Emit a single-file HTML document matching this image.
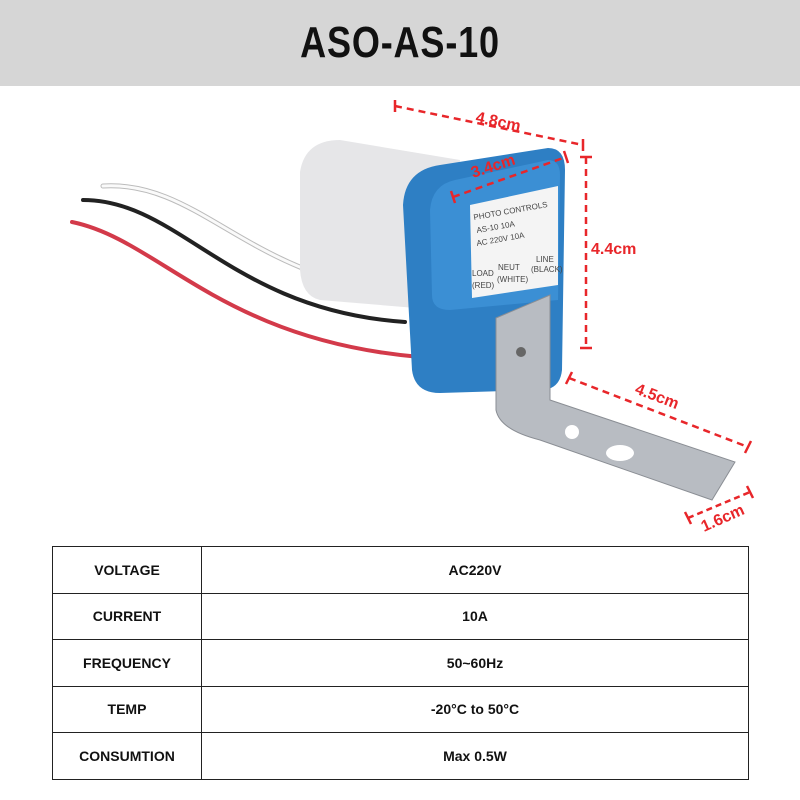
<!DOCTYPE html>
<html><head><style>
body{margin:0;width:800px;height:800px;background:#fff;font-family:"Liberation Sans",sans-serif;position:relative;overflow:hidden}
.hdr{position:absolute;left:0;top:0;width:800px;height:86px;background:#d6d6d6}
.hdr div{text-align:center;font-weight:bold;font-size:44px;line-height:86px;color:#111;transform:scaleX(0.82);letter-spacing:1px}
table{position:absolute;left:52px;top:546px;width:697px;border-collapse:collapse}
td{border:1.5px solid #222;height:45.5px;text-align:center;font-weight:bold;font-size:14px;color:#111;padding:0}
td:first-child{width:148px}
</style></head><body>
<div class="hdr"><div>ASO-AS-10</div></div>
<svg width="800" height="800" style="position:absolute;left:0;top:0">
<g fill="none" stroke-width="4" stroke-linecap="round">
<path d="M103 186 C200 180 250 280 405 292" stroke="#bbb" stroke-width="5"/>
<path d="M103 186 C200 180 250 280 405 292" stroke="#fafafa" stroke-width="3"/>
<path d="M83 200 C180 200 230 310 405 322" stroke="#222"/>
<path d="M72 222 C160 240 220 340 420 357" stroke="#d33a4a"/>
</g>
<path d="M300 172 Q305 140 340 140 L460 160 L440 310 L320 300 Q302 296 300 270 Z" fill="#e6e6e8"/>
<path d="M403 205 Q405 170 440 165 L548 148 Q565 148 565 170 L562 370 Q560 390 540 390 L440 393 Q415 393 412 370 Z" fill="#2e7fc4"/>
<path d="M430 210 Q432 185 455 180 L548 160 Q560 160 560 175 L558 300 L450 310 Q432 310 432 295 Z" fill="#3b8fd4"/>
<path d="M470 205 L558 186 L558 285 L472 298 Z" fill="#f4f4f4"/>
<g font-size="8" fill="#444" font-family="Liberation Sans">
<text x="474" y="220" transform="rotate(-10 474 220)">PHOTO CONTROLS</text>
<text x="477" y="233" transform="rotate(-10 477 233)">AS-10  10A</text>
<text x="477" y="246" transform="rotate(-10 477 246)">AC 220V 10A</text>
<text x="472" y="276">LOAD</text><text x="472" y="288">(RED)</text>
<text x="498" y="270">NEUT</text><text x="497" y="282">(WHITE)</text>
<text x="536" y="262">LINE</text><text x="531" y="272">(BLACK)</text>
</g>
<path d="M496 318 L550 295 L550 400 L735 462 L712 500 L540 440 Q500 430 496 410 Z" fill="#b8bcc2" stroke="#8a8e94"/>
<circle cx="521" cy="352" r="5" fill="#666"/>
<circle cx="572" cy="432" r="7" fill="#fff"/><ellipse cx="620" cy="453" rx="14" ry="8" fill="#fff"/>
<g stroke="#e8262a" stroke-width="2.5" fill="none">
<path d="M395 106 L583 145" stroke-dasharray="7 5"/><path d="M395 100 L395 112 M583 139 L583 151"/>
<path d="M453 197 L566 157" stroke-dasharray="7 5"/><path d="M451 191 L455 203 M564 151 L568 163"/>
<path d="M586 157 L586 348" stroke-dasharray="7 5"/><path d="M580 157 L592 157 M580 348 L592 348"/>
<path d="M569 378 L748 447" stroke-dasharray="7 5"/><path d="M566 384 L572 372 M745 453 L751 441"/>
<path d="M688 518 L750 492" stroke-dasharray="6 4"/><path d="M685 512 L691 524 M747 486 L753 498"/>
</g>
<g fill="#e8262a" font-weight="bold" font-size="16" font-family="Liberation Sans">
<text x="475" y="122" transform="rotate(12 475 122)">4.8cm</text>
<text x="473" y="178" transform="rotate(-18 473 178)">3.4cm</text>
<text x="591" y="254">4.4cm</text>
<text x="634" y="393" transform="rotate(21 634 393)">4.5cm</text>
<text x="704" y="532" transform="rotate(-24 704 532)">1.6cm</text>
</g>
</svg>
<table>
<tr><td>VOLTAGE</td><td>AC220V</td></tr>
<tr><td>CURRENT</td><td>10A</td></tr>
<tr><td>FREQUENCY</td><td>50~60Hz</td></tr>
<tr><td>TEMP</td><td>-20°C to 50°C</td></tr>
<tr><td>CONSUMTION</td><td>Max 0.5W</td></tr>
</table>
</body></html>
